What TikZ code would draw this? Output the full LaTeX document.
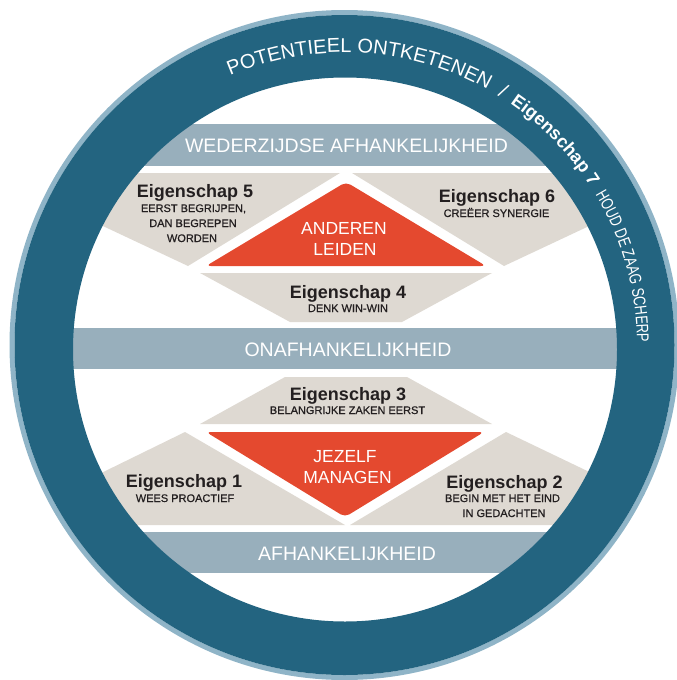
\documentclass[tikz,border=0pt]{standalone}
\usepackage{fontspec}
\setmainfont{Liberation Sans}
\newfontfamily\condfont[FakeStretch=0.76]{Liberation Sans}
\newfontfamily\subfont[FakeBold=0.6]{Liberation Sans}
\usetikzlibrary{decorations.text}
\definecolor{ringblue}{RGB}{35,100,128}
\definecolor{rimblue}{RGB}{143,180,199}
\definecolor{bandblue}{RGB}{152,175,188}
\definecolor{boxgray}{RGB}{222,217,210}
\definecolor{redbox}{RGB}{228,73,47}
\definecolor{inkdark}{RGB}{35,31,32}
\begin{document}
\begin{tikzpicture}[x=1pt,y=-1pt,
  eig/.style={font=\bfseries\fontsize{18}{20}\selectfont,text=inkdark,inner sep=0pt,anchor=base},
  sub/.style={font=\subfont\fontsize{11}{13}\selectfont,text=inkdark,inner sep=0pt,anchor=base},
  bandlbl/.style={font=\fontsize{19.5}{22}\selectfont,text=white,inner sep=0pt,anchor=base},
  redlbl/.style={font=\fontsize{17.5}{20}\selectfont,text=white,inner sep=0pt,anchor=base},
  band/.style={fill=bandblue},
  grayshape/.style={fill=boxgray},
  redshape/.style={fill=redbox,rounded corners=5pt},
  ringtext/.style={decorate,decoration={text along path,text color=white,text align=left}}
]
\useasboundingbox (0,0) rectangle (677,680);
% ---- content inside the ring
\begin{scope}
  \clip (345,349.5) circle[radius=273];
  % bands
  \fill[band] (0,124) rectangle (677,166);
  \fill[band] (0,328) rectangle (677,369);
  \fill[band] (0,532) rectangle (677,573);
  % upper group
  \fill[grayshape] (188,266) -- (340,173) -- (-10,173) -- cycle;
  \fill[grayshape] (504,266) -- (352,173) -- (702,173) -- cycle;
  \fill[grayshape] (200,273) -- (492,273) -- (402,322) -- (290,322) -- cycle;
  \fill[redshape] (346,182) -- (486,266) -- (206,266) -- cycle;
  % lower group
  \fill[grayshape] (285,377) -- (407,377) -- (492,424) -- (200,424) -- cycle;
  \fill[grayshape] (185,432) -- (345,525) -- (-5,525) -- cycle;
  \fill[grayshape] (506,432) -- (350,525) -- (700,525) -- cycle;
  \fill[redshape] (206,432) -- (484,432) -- (345,517) -- cycle;
\end{scope}
% ---- ring
\fill[rimblue,even odd rule] (344.5,345) circle[radius=335] (344.5,345) circle[radius=330];
\fill[ringblue,even odd rule] (344.5,345) circle[radius=330] (345,349.5) circle[radius=272];
% ---- ring texts
\path[ringtext,decoration={text={|\fontsize{20}{22}\selectfont|POTENTIEEL ONTKETENEN}}]
  (344.5,345) ++(-113:292.5) arc[start angle=-113,end angle=-20,radius=292.5];
\path[ringtext,decoration={text={|\fontsize{20}{22}\selectfont|/}}]
  (344.5,345) ++(-58.5:292.5) arc[start angle=-58.5,end angle=-20,radius=292.5];
\path[ringtext,decoration={text={|\bfseries\fontsize{18}{20}\selectfont|Eigenschap 7}}]
  (344.5,345) ++(-55.5:292.5) arc[start angle=-55.5,end angle=10,radius=292.5];
\path[ringtext,decoration={text={|\condfont\fontsize{17}{19}\selectfont|HOUD DE ZAAG SCHERP}}]
  (344.5,345) ++(-31:292.5) arc[start angle=-31,end angle=20,radius=292.5];
% ---- band labels
\node[bandlbl] (wed) at (346.5,152.5) {WEDERZIJDSE AFHANKELIJKHEID};
\node[bandlbl] (ona) at (348,356.5) {ONAFHANKELIJKHEID};
\node[bandlbl] (afh) at (347,560.5) {AFHANKELIJKHEID};
% ---- upper group labels
\node[eig] (e5) at (195,197) {Eigenschap 5};
\node[sub] (e5a) at (193.5,212) {EERST BEGRIJPEN,};
\node[sub] (e5b) at (193,227) {DAN BEGREPEN};
\node[sub] (e5c) at (192,242) {WORDEN};
\node[eig] (e6) at (497,202) {Eigenschap 6};
\node[sub] (e6a) at (496.5,217) {CREËER SYNERGIE};
\node[eig] (e4) at (348,298.5) {Eigenschap 4};
\node[sub] (e4a) at (348,312) {DENK WIN-WIN};
\node[redlbl] (and) at (344,234) {ANDEREN};
\node[redlbl] (lei) at (345,255) {LEIDEN};
% ---- lower group labels
\node[eig] (e3) at (348,400) {Eigenschap 3};
\node[sub] (e3a) at (347.5,414) {BELANGRIJKE ZAKEN EERST};
\node[redlbl] (jez) at (345,462) {JEZELF};
\node[redlbl] (man) at (347.5,483) {MANAGEN};
\node[eig] (e1) at (184,487) {Eigenschap 1};
\node[sub] (e1a) at (185,502) {WEES PROACTIEF};
\node[eig] (e2) at (504.5,488) {Eigenschap 2};
\node[sub] (e2a) at (502.5,502) {BEGIN MET HET EIND};
\node[sub] (e2b) at (504,517) {IN GEDACHTEN};
\end{tikzpicture}
\end{document}
